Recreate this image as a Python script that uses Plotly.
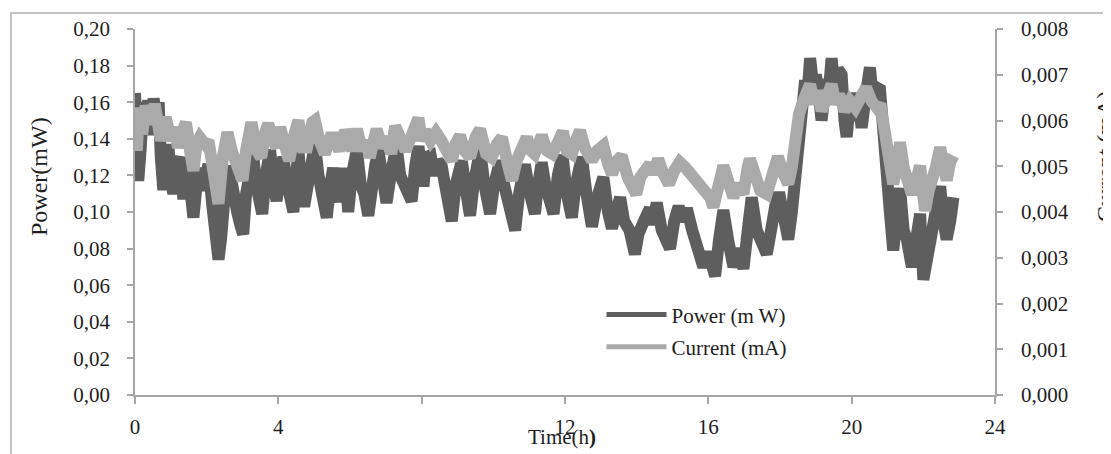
import plotly.graph_objects as go

# ---- data ----
time_power_h = [
    0.00, 0.04, 0.09, 0.16, 0.23, 0.30, 0.37, 0.44, 0.52, 0.60, 0.66, 0.72, 0.79, 0.86, 0.93,
    1.00, 1.07, 1.16, 1.26, 1.35, 1.44, 1.53, 1.63, 1.72, 1.81, 1.88, 1.95, 2.05, 2.15, 2.26,
    2.33, 2.40, 2.47, 2.55, 2.62, 2.72, 2.85, 2.95, 3.02, 3.10, 3.20, 3.30, 3.38, 3.45, 3.55,
    3.65, 3.77, 3.85, 3.95, 4.05, 4.14, 4.22, 4.30, 4.42, 4.50, 4.56, 4.63, 4.72, 4.85, 4.95,
    5.02, 5.12, 5.25, 5.35, 5.45, 5.53, 5.62, 5.72, 5.86, 5.95, 6.05, 6.19, 6.30, 6.40, 6.51,
    6.60, 6.70, 6.79, 6.90, 7.02, 7.15, 7.30, 7.40, 7.50, 7.62, 7.72, 7.82, 7.91, 8.05, 8.12,
    8.25, 8.35, 8.45, 8.56, 8.65, 8.75, 8.84, 8.95, 9.05, 9.12, 9.25, 9.35, 9.45, 9.55, 9.63,
    9.75, 9.91, 10.02, 10.10, 10.19, 10.30, 10.45, 10.61, 10.72, 10.80, 10.88, 11.00, 11.16, 11.25, 11.35,
    11.45, 11.55, 11.68, 11.80, 11.93, 12.05, 12.19, 12.30, 12.40, 12.47, 12.60, 12.75, 12.90, 13.07, 13.20,
    13.31, 13.42, 13.54, 13.65, 13.80, 13.95, 14.05, 14.20, 14.37, 14.45, 14.56, 14.70, 14.85, 14.93, 15.05,
    15.17, 15.30, 15.40, 15.55, 15.70, 15.86, 16.00, 16.19, 16.30, 16.42, 16.55, 16.70, 16.85, 16.98, 17.10,
    17.21, 17.35, 17.50, 17.63, 17.75, 17.91, 18.00, 18.12, 18.23, 18.33, 18.42, 18.51, 18.61, 18.70, 18.77,
    18.84, 18.92, 19.00, 19.08, 19.16, 19.28, 19.38, 19.44, 19.52, 19.62, 19.72, 19.80, 19.86, 19.95, 20.05,
    20.15, 20.28, 20.40, 20.51, 20.60, 20.70, 20.79, 20.89, 20.98, 21.07, 21.16, 21.25, 21.35, 21.45, 21.54,
    21.68, 21.80, 21.91, 22.00, 22.12, 22.23, 22.35, 22.47, 22.56, 22.65, 22.75, 22.84,
]
power_mw = [
    0.165, 0.150, 0.117, 0.135, 0.160, 0.145, 0.161, 0.142, 0.162, 0.150, 0.160, 0.130, 0.112, 0.128, 0.137,
    0.118, 0.110, 0.125, 0.130, 0.107, 0.130, 0.115, 0.097, 0.115, 0.124, 0.112, 0.122, 0.126, 0.105, 0.085,
    0.074, 0.085, 0.110, 0.120, 0.125, 0.110, 0.100, 0.092, 0.088, 0.110, 0.128, 0.131, 0.115, 0.104, 0.099,
    0.120, 0.134, 0.118, 0.106, 0.120, 0.130, 0.118, 0.110, 0.100, 0.120, 0.134, 0.115, 0.103, 0.118, 0.130,
    0.137, 0.120, 0.105, 0.097, 0.115, 0.124, 0.112, 0.106, 0.124, 0.100, 0.120, 0.134, 0.115, 0.110, 0.098,
    0.115, 0.125, 0.134, 0.115, 0.105, 0.122, 0.136, 0.120, 0.115, 0.112, 0.106, 0.125, 0.136, 0.114, 0.130,
    0.131, 0.120, 0.128, 0.125, 0.115, 0.105, 0.095, 0.115, 0.125, 0.128, 0.110, 0.098, 0.115, 0.125, 0.134,
    0.115, 0.099, 0.115, 0.122, 0.128, 0.115, 0.105, 0.090, 0.110, 0.120, 0.126, 0.112, 0.099, 0.115, 0.127,
    0.115, 0.108, 0.099, 0.120, 0.131, 0.110, 0.097, 0.115, 0.125, 0.130, 0.110, 0.092, 0.108, 0.119, 0.100,
    0.091, 0.100, 0.108, 0.095, 0.090, 0.077, 0.088, 0.095, 0.102, 0.093, 0.105, 0.090, 0.084, 0.080, 0.095,
    0.103, 0.095, 0.102, 0.090, 0.080, 0.070, 0.078, 0.065, 0.085, 0.101, 0.085, 0.070, 0.080, 0.069, 0.090,
    0.108, 0.090, 0.083, 0.077, 0.090, 0.108, 0.108, 0.092, 0.085, 0.100, 0.117, 0.137, 0.161, 0.172, 0.165,
    0.184, 0.170, 0.175, 0.165, 0.150, 0.172, 0.170, 0.184, 0.168, 0.178, 0.175, 0.150, 0.141, 0.160, 0.150,
    0.165, 0.146, 0.165, 0.179, 0.160, 0.168, 0.167, 0.148, 0.124, 0.099, 0.079, 0.095, 0.113, 0.090, 0.085,
    0.070, 0.085, 0.099, 0.063, 0.075, 0.085, 0.100, 0.114, 0.095, 0.085, 0.095, 0.108,
]

time_current_h = [
    0.00, 0.05, 0.12, 0.20, 0.30, 0.45, 0.55, 0.65, 0.72, 0.86, 1.00, 1.10, 1.20, 1.30, 1.42,
    1.55, 1.63, 1.72, 1.81, 1.95, 2.05, 2.20, 2.33, 2.45, 2.58, 2.70, 2.85, 3.00, 3.10, 3.25,
    3.40, 3.52, 3.65, 3.72, 3.85, 3.95, 4.05, 4.20, 4.30, 4.45, 4.56, 4.68, 4.80, 4.95, 5.02,
    5.15, 5.30, 5.45, 5.55, 5.70, 5.86, 5.95, 6.05, 6.19, 6.35, 6.45, 6.55, 6.74, 6.90, 7.05,
    7.15, 7.26, 7.45, 7.55, 7.70, 7.85, 7.91, 8.00, 8.10, 8.25, 8.40, 8.55, 8.70, 8.84, 8.95,
    9.07, 9.20, 9.35, 9.50, 9.63, 9.80, 9.95, 10.10, 10.24, 10.40, 10.52, 10.65, 10.80, 10.93, 11.05,
    11.15, 11.35, 11.50, 11.65, 11.80, 11.94, 12.05, 12.19, 12.30, 12.42, 12.55, 12.75, 12.90, 13.07, 13.20,
    13.31, 13.45, 13.58, 13.75, 13.90, 13.99, 14.10, 14.25, 14.37, 14.47, 14.60, 14.75, 14.90, 15.05, 15.20,
    15.35, 15.50, 15.65, 15.86, 16.05, 16.14, 16.30, 16.42, 16.55, 16.70, 16.85, 16.98, 17.10, 17.16, 17.30,
    17.45, 17.63, 17.80, 17.94, 18.10, 18.23, 18.33, 18.42, 18.53, 18.65, 18.75, 18.84, 18.95, 19.05, 19.16,
    19.30, 19.44, 19.55, 19.65, 19.80, 19.95, 20.10, 20.25, 20.40, 20.55, 20.70, 20.80, 20.90, 20.98, 21.07,
    21.16, 21.25, 21.35, 21.45, 21.55, 21.68, 21.80, 21.91, 22.00, 22.05, 22.15, 22.25, 22.35, 22.47, 22.56,
    22.65, 22.75, 22.84,
]
current_ma = [
    0.00628, 0.00534, 0.00628, 0.00570, 0.00632, 0.00593, 0.00636, 0.00585, 0.00556, 0.00607, 0.00556, 0.00585, 0.00541, 0.00570, 0.00596,
    0.00527, 0.00490, 0.00549, 0.00563, 0.00549, 0.00556, 0.00483, 0.00418, 0.00519, 0.00574, 0.00534, 0.00498, 0.00469, 0.00534, 0.00596,
    0.00534, 0.00519, 0.00578, 0.00593, 0.00556, 0.00541, 0.00585, 0.00519, 0.00512, 0.00570, 0.00600, 0.00541, 0.00541, 0.00596, 0.00600,
    0.00556, 0.00527, 0.00563, 0.00563, 0.00534, 0.00578, 0.00563, 0.00534, 0.00581, 0.00534, 0.00556, 0.00519, 0.00581, 0.00541, 0.00563,
    0.00527, 0.00588, 0.00556, 0.00534, 0.00563, 0.00585, 0.00605, 0.00556, 0.00578, 0.00556, 0.00574, 0.00556, 0.00534, 0.00512, 0.00549,
    0.00567, 0.00534, 0.00519, 0.00563, 0.00581, 0.00527, 0.00519, 0.00549, 0.00563, 0.00505, 0.00469, 0.00512, 0.00549, 0.00563, 0.00534,
    0.00527, 0.00567, 0.00534, 0.00527, 0.00556, 0.00576, 0.00534, 0.00527, 0.00556, 0.00578, 0.00541, 0.00512, 0.00534, 0.00545, 0.00505,
    0.00483, 0.00512, 0.00523, 0.00476, 0.00454, 0.00439, 0.00476, 0.00494, 0.00505, 0.00483, 0.00516, 0.00483, 0.00461, 0.00490, 0.00509,
    0.00498, 0.00483, 0.00469, 0.00447, 0.00432, 0.00411, 0.00469, 0.00501, 0.00469, 0.00432, 0.00461, 0.00439, 0.00498, 0.00516, 0.00483,
    0.00447, 0.00439, 0.00498, 0.00521, 0.00483, 0.00461, 0.00498, 0.00556, 0.00614, 0.00643, 0.00665, 0.00679, 0.00636, 0.00665, 0.00621,
    0.00657, 0.00679, 0.00636, 0.00657, 0.00621, 0.00643, 0.00628, 0.00657, 0.00672, 0.00643, 0.00628, 0.00636, 0.00585, 0.00541, 0.00498,
    0.00461, 0.00498, 0.00552, 0.00498, 0.00461, 0.00439, 0.00469, 0.00501, 0.00432, 0.00403, 0.00447, 0.00469, 0.00498, 0.00541, 0.00498,
    0.00469, 0.00509, 0.00523,
]

x_tick_values = [0, 4, 8, 12, 16, 20, 24]
x_tick_labels = ["0", "4", "", "12", "16", "20", "24"]

series_names = ["Power (m W)", "Current (mA)"]
axis_titles = {"x": "Time(h<b>)</b>", "y": "Power(mW)", "y2": "Current (mA)"}

# ---- styling ----
FONT = "Liberation Serif"
DARK = "#5e5e5e"
LIGHT = "#aaaaaa"
AXIS = "#a6a6a6"
TEXT = "#1e1e1e"

# the page body adds an 8 px margin, so the figure is drawn 8 px smaller
W, H = 1103, 446
PLOT_L, PLOT_R, PLOT_T, PLOT_B = 135, 995, 29, 395   # screen pixels of the plot area
OFF = 8


def px(sx):
    return (sx - PLOT_L) / (PLOT_R - PLOT_L)


def py(sy):
    return (PLOT_B - sy) / (PLOT_B - PLOT_T)


fig = go.Figure()
fig.add_trace(go.Scatter(
    x=time_power_h, y=power_mw, name=series_names[0], mode="lines",
    line=dict(color=DARK, width=12), yaxis="y", legendgroup="p",
))
fig.add_trace(go.Scatter(
    x=time_current_h, y=current_ma, name=series_names[1], mode="lines",
    line=dict(color=LIGHT, width=12), yaxis="y2", legendgroup="c",
))

tickfont = dict(family=FONT, size=21, color=TEXT)

fig.update_layout(
    width=W, height=H,
    margin=dict(l=PLOT_L - OFF, r=W - (PLOT_R - OFF), t=PLOT_T - OFF, b=H - (PLOT_B - OFF), autoexpand=False),
    paper_bgcolor="white", plot_bgcolor="white",
    separators=", ",
    showlegend=True,
    legend=dict(
        x=px(601.5), y=0.275, xanchor="left", yanchor="top",
        font=dict(family=FONT, size=21, color=TEXT),
        bgcolor="rgba(0,0,0,0)", tracegroupgap=2, itemsizing="constant", itemwidth=60,
    ),
    xaxis=dict(
        range=[0, 24], tickvals=x_tick_values, ticktext=x_tick_labels,
        showgrid=False, zeroline=False, showline=True, linecolor=AXIS, linewidth=1.5,
        ticks="outside", ticklen=7, tickcolor=AXIS, tickwidth=1.5,
        tickfont=tickfont, ticklabelstandoff=5,
    ),
    yaxis=dict(
        range=[0, 0.2], dtick=0.02, tickformat=".2f",
        showgrid=False, zeroline=False, showline=True, linecolor=AXIS, linewidth=1.5,
        ticks="outside", ticklen=6, tickcolor=AXIS, tickwidth=1.5,
        tickfont=tickfont, ticklabelstandoff=13,
    ),
    yaxis2=dict(
        range=[0, 0.008], dtick=0.001, tickformat=".3f",
        overlaying="y", side="right",
        showgrid=False, zeroline=False, showline=True, linecolor=AXIS, linewidth=1.5,
        ticks="outside", ticklen=6, tickcolor=AXIS, tickwidth=1.5,
        tickfont=tickfont, ticklabelstandoff=14,
    ),
    shapes=[dict(
        type="rect", xref="paper", yref="paper",
        x0=px(11), x1=px(1200), y0=py(520), y1=py(13),
        line=dict(color="#b0b0b0", width=1.5), fillcolor="rgba(0,0,0,0)", layer="below",
    )],
    annotations=[
        dict(text=axis_titles["y"], xref="paper", yref="paper",
             x=px(39), y=py(177), xanchor="center", yanchor="middle", textangle=-90,
             showarrow=False, font=dict(family=FONT, size=24, color=TEXT)),
        dict(text=axis_titles["y2"], xref="paper", yref="paper",
             x=px(1105), y=py(157), xanchor="center", yanchor="middle", textangle=-90,
             showarrow=False, font=dict(family=FONT, size=24, color=TEXT)),
        dict(text=axis_titles["x"], xref="paper", yref="paper",
             x=px(562), y=py(437), xanchor="center", yanchor="middle",
             showarrow=False, font=dict(family=FONT, size=21, color=TEXT)),
    ],
)

fig.write_html("out.html")
